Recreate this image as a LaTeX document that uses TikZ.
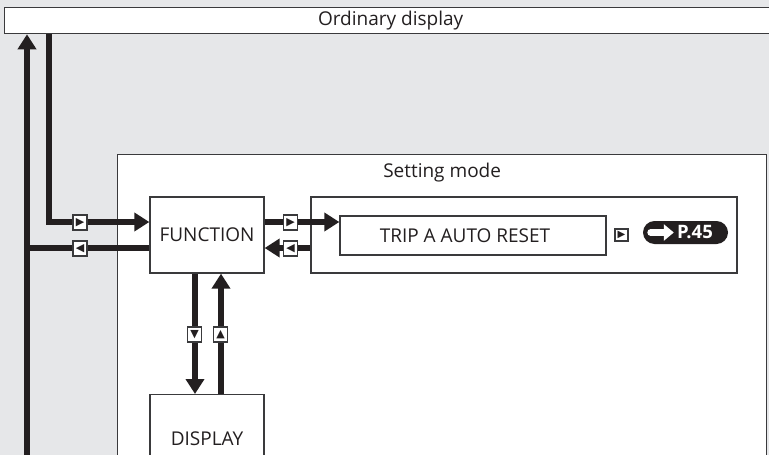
\documentclass[tikz,border=0pt]{standalone}
\usepackage{fontspec}
\setmainfont{Open Sans}
\newfontfamily\symfont{DejaVu Sans}
\usetikzlibrary{arrows.meta}
\definecolor{panelgray}{HTML}{E6E7E9}
\definecolor{inkgray}{HTML}{231F20}
\definecolor{boxline}{HTML}{3A3A3C}

\begin{document}
\begin{tikzpicture}[
  x=1pt, y=-1pt,
  font=\fontsize{19}{22}\selectfont,
  every node/.style={text=inkgray},
  panel/.style={draw=boxline, line width=1.3pt, fill=white, inner sep=0pt},
  modebox/.style={panel, minimum width=114pt, minimum height=76pt},
  keyicon/.style={draw=boxline, fill=white, line width=1.2pt, minimum width=14pt, minimum height=15pt, inner sep=0pt, font=\symfont\fontsize{11}{11}\selectfont},
  pill/.style={fill=inkgray, rounded corners=11.5pt, minimum width=85pt, minimum height=23pt, inner sep=0pt, text=white, font=\fontsize{18.5}{20}\selectfont\bfseries},
  flow/.style={draw=inkgray, line width=5.5pt, -{Triangle[length=15pt,width=18pt]}},
  wire/.style={draw=inkgray, line width=5.5pt}
]
  \useasboundingbox (0,0) rectangle (769,455);
  \clip (0,0) rectangle (769,455);

  % Fondo gris
  \fill[panelgray] (0,0) rectangle (769,455);

  % Recuadros principales
  \node[panel, minimum width=772pt, minimum height=26pt, anchor=north west] (ordinary) at (4,7) {Ordinary display};
  \node[panel, minimum width=649pt, minimum height=330pt, anchor=north west] (setting) at (117,154) {};
  \node (settitle) at ([yshift=-19]setting.north) {Setting mode};

  % Modos dentro de Setting mode
  \node[modebox] (func) at (207,235) {FUNCTION};
  \node[panel, minimum width=114pt, minimum height=88pt, anchor=north] (display) at (207,394) {DISPLAY};
  \node[panel, minimum width=426pt, minimum height=76pt] (tripgroup) at (524,235) {};
  \node[panel, minimum width=266pt, minimum height=39pt] (trip) at (473,235.5) {TRIP A AUTO RESET\hspace*{16pt}};
  \node[keyicon, minimum width=13pt, minimum height=12pt, font=\symfont\fontsize{10}{10}\selectfont] (nexticon) at (621.5,235) {▶};

  % Referencia de página
  \node[pill] (pageref) at (685.5,232.5) {\hspace*{19pt}P.45};
  \draw[white, line width=7pt, line cap=round, -{Triangle[length=10pt,width=16pt]}] ([xshift=8]pageref.west) -- ([xshift=31]pageref.west);

  % Puntos de conexión
  \coordinate (leftbus) at (27,470);
  \coordinate (fret) at ([yshift=-13]func.west);
  \coordinate (fout) at ([yshift=13]func.east);
  \coordinate (tback) at ([yshift=-13]tripgroup.west);

  % Flechas
  \draw[flow] (leftbus) -- (leftbus |- ordinary.south);
  \draw[flow] ([xshift=45]ordinary.south west) |- ([yshift=13]func.west);
  \draw[wire] (fret) -- (fret -| leftbus);
  \draw[flow] (fout) -- (fout -| trip.west);
  \draw[flow] (tback) -- (tback -| func.east);
  \draw[flow] ([xshift=-12]func.south) -- ([xshift=-12]display.north);
  \draw[flow] ([xshift=14]display.north) -- ([xshift=14]func.south);

  % Teclas sobre las flechas
  \foreach \nm/\px/\py/\sym in {keyinr/80/222.5/▶, keyinl/80/248.5/◀, keyoutr/290.5/222.5/▶, keyoutl/290.5/248.5/◀, keydown/194.5/334.5/▼, keyup/220.5/334.5/▲} {
    \node[keyicon] (\nm) at (\px,\py) {\sym};
  }
\end{tikzpicture}
\end{document}
